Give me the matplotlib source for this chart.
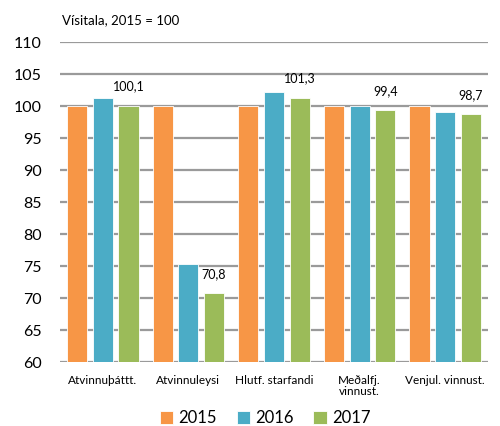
import matplotlib.pyplot as plt
import numpy as np

plt.rcParams['font.family'] = ['Lato', 'DejaVu Sans']

# Data
categories = ['Atvinnuþáttt.', 'Atvinnuleysi', 'Hlutf. starfandi', 'Meðalfj.\nvinnust.', 'Venjul. vinnust.']
years = ['2015', '2016', '2017']
v2015 = [100.0, 100.0, 100.0, 100.0, 100.0]
v2016 = [101.2, 75.3, 102.2, 100.0, 99.1]
v2017 = [100.1, 70.8, 101.3, 99.4, 98.7]
labels_2017 = ['100,1', '70,8', '101,3', '99,4', '98,7']
colors = ['#F79646', '#4BACC6', '#9BBB59']

fig = plt.figure(figsize=(5, 4.26), dpi=100)
ax = fig.add_axes([0.12, 0.150, 0.856, 0.751])

x = np.arange(len(categories))
width = 0.235
step = 0.30
for i, (vals, yr) in enumerate(zip([v2015, v2016, v2017], years)):
    ax.bar(x + (i - 1) * step, np.array(vals) - 60, width, bottom=60, color=colors[i],
           edgecolor='white', linewidth=0.6, label=yr, zorder=3)

for xi, v, lab in zip(x, v2017, labels_2017):
    ax.text(xi + step, v + 3.0, lab, ha='center', va='center', fontsize=9)

ax.set_ylim(60, 110)
ax.set_xlim(-0.5, len(categories) - 0.5)
ax.set_yticks(np.arange(60, 111, 5))
ax.set_xticks(x)
ax.set_xticklabels(categories, fontsize=8.5, linespacing=1.05)
ax.tick_params(axis='y', labelsize=11.5, length=0, pad=13)
ax.tick_params(axis='x', length=0, pad=9)
ax.grid(axis='y', color='#9a9a9a', linewidth=1.6, zorder=0)
for s in ax.spines.values():
    s.set_visible(False)

fig.text(0.124, 0.952, 'Vísitala, 2015 = 100', fontsize=9.5, va='center')

leg = fig.legend(loc='lower center', bbox_to_anchor=(0.53, -0.036), ncol=3, frameon=False,
                 fontsize=12, handlelength=0.8, handleheight=0.8, handletextpad=0.3,
                 columnspacing=1.2)

fig.savefig('out.png', dpi=100)
